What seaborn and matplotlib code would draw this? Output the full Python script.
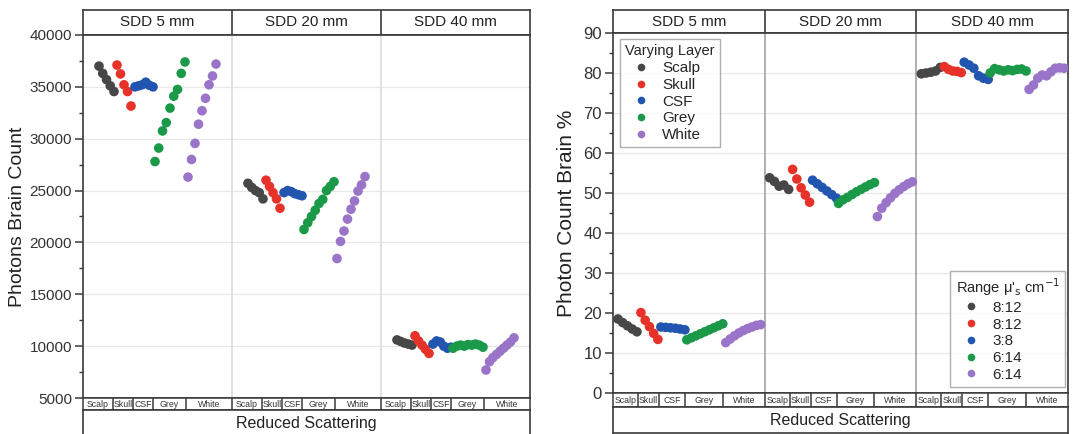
import numpy as np
import pandas as pd
import matplotlib
matplotlib.use("Agg")
import matplotlib.pyplot as plt
import seaborn as sns
from matplotlib.lines import Line2D
from matplotlib.ticker import MultipleLocator

sns.set_style("white")
plt.rcParams["font.family"] = ["Liberation Sans", "DejaVu Sans"]

# ---------------- data ----------------
layers = ["Scalp", "Skull", "CSF", "Grey", "White"]
sdd_labels = ["SDD 5 mm", "SDD 20 mm", "SDD 40 mm"]
range_labels = ["8:12", "8:12", "3:8", "6:14", "6:14"]
colors = ["#474747", "#e63228", "#2155b0", "#1a9a48", "#9a74c8"]

# Photons brain count (left panel)
count_sdd5 = {
    "Scalp": [37000, 36300, 35700, 35100, 34550],
    "Skull": [37100, 36250, 35200, 34550, 33150],
    "CSF":   [35000, 35100, 35200, 35450, 35150, 35000],
    "Grey":  [27800, 29100, 30750, 31550, 32950, 34100, 34750, 36300, 37400],
    "White": [26300, 28000, 29550, 31400, 32700, 33900, 35200, 36050, 37200],
}
count_sdd20 = {
    "Scalp": [25700, 25300, 25000, 24800, 24200],
    "Skull": [26000, 25400, 24800, 24200, 23300],
    "CSF":   [24800, 25000, 24900, 24700, 24600, 24500],
    "Grey":  [21250, 21900, 22500, 23100, 23750, 24150, 25000, 25400, 25850],
    "White": [18450, 20100, 21100, 22250, 23200, 24000, 24950, 25550, 26350],
}
count_sdd40 = {
    "Scalp": [10600, 10450, 10300, 10200, 10100],
    "Skull": [11000, 10500, 10100, 9700, 9300],
    "CSF":   [10200, 10500, 10400, 10000, 9800, 9900],
    "Grey":  [9800, 10000, 10100, 10000, 10150, 10100, 10200, 10100, 9900],
    "White": [7700, 8500, 8900, 9200, 9500, 9800, 10100, 10400, 10800],
}

# Photon count brain % (right panel)
pct_sdd5 = {
    "Scalp": [18.5, 17.6, 16.8, 16.0, 15.3],
    "Skull": [20.1, 18.2, 16.6, 14.9, 13.4],
    "CSF":   [16.5, 16.4, 16.3, 16.2, 16.0, 15.8],
    "Grey":  [13.3, 13.8, 14.3, 14.8, 15.3, 15.8, 16.3, 16.8, 17.3],
    "White": [12.6, 13.5, 14.3, 15.0, 15.6, 16.1, 16.5, 16.9, 17.1],
}
pct_sdd20 = {
    "Scalp": [53.8, 52.9, 51.7, 52.0, 50.9],
    "Skull": [55.9, 53.5, 51.3, 49.5, 47.7],
    "CSF":   [53.2, 52.3, 51.4, 50.5, 49.6, 48.7],
    "Grey":  [47.4, 48.3, 48.9, 49.6, 50.3, 50.9, 51.5, 52.1, 52.6],
    "White": [44.1, 46.2, 47.6, 48.8, 49.9, 50.8, 51.6, 52.3, 52.8],
}
pct_sdd40 = {
    "Scalp": [79.8, 80.0, 80.2, 80.5, 81.4],
    "Skull": [81.6, 80.9, 80.5, 80.4, 80.1],
    "CSF":   [82.7, 82.0, 81.2, 79.3, 78.7, 78.4],
    "Grey":  [80.0, 81.1, 80.8, 80.5, 80.8, 80.6, 80.9, 81.0, 80.5],
    "White": [75.9, 77.0, 78.7, 79.5, 79.3, 80.3, 81.2, 81.3, 81.2],
}

# ---------------- layout (pixel units) ----------------
W, H = 1073, 434
fig = plt.figure(figsize=(W / 100, H / 100), dpi=100)
fig.patch.set_facecolor("white")

DARK = "#3a3a3a"


def px_axes(x0, y0, x1, y1):
    return fig.add_axes([x0 / W, (H - y1) / H, (x1 - x0) / W, (y1 - y0) / H])


def build_df(groups, pos, gw):
    rows = []
    for g, grp in enumerate(groups):
        for lay in layers:
            vals = grp[lay]
            a, b = pos[lay]
            xs = g * gw + np.linspace(a, b, len(vals))
            for xv, yv in zip(xs, vals):
                rows.append({"x": xv, "y": yv, "layer": lay})
    return pd.DataFrame(rows)


def panel(x0, x1, ytop, head_bottom, yplot_bot, ystrip_bot, yband_bot, groups,
          pos, bounds, ylim, major, minor, ylabel, ylabel_x, ylabel_size,
          tick_size, sep_color):
    gw = (x1 - x0) / 3.0
    scale = gw / bounds[-1]
    # header
    hax = px_axes(x0, ytop, x1, head_bottom)
    hax.set_xlim(0, 3 * gw)
    hax.set_ylim(0, 1)
    hax.set_xticks([]); hax.set_yticks([])
    for s in hax.spines.values():
        s.set_color(DARK); s.set_linewidth(1.2)
    for g in range(3):
        if g > 0:
            hax.axvline(g * gw, color=DARK, lw=1.2)
        hax.text(g * gw + gw / 2, 0.5, sdd_labels[g], ha="center", va="center",
                 fontsize=11, color="#222222")

    # main plotting area
    ax = px_axes(x0, head_bottom, x1, yplot_bot)
    df = build_df(groups, {k: (v[0] * scale, v[1] * scale) for k, v in pos.items()}, gw)
    sns.scatterplot(data=df, x="x", y="y", hue="layer", hue_order=layers,
                    palette=colors, s=48, linewidth=0, legend=False, ax=ax,
                    zorder=3)
    ax.set_xlim(0, 3 * gw)
    ax.set_ylim(*ylim)
    ax.set_xticks([])
    ax.set_xlabel("")
    ax.yaxis.set_major_locator(MultipleLocator(major))
    ax.yaxis.set_minor_locator(MultipleLocator(minor))
    ax.tick_params(axis="y", which="major", direction="out", length=6, width=1.1,
                   color=DARK, labelsize=tick_size, labelcolor="#333333", pad=2,
                   left=True)
    ax.tick_params(axis="y", which="minor", direction="out", length=3, width=1.0,
                   color=DARK, left=True)
    ax.yaxis.grid(True, which="major", color="#e8e8e8", lw=0.9)
    ax.set_axisbelow(True)
    for g in (1, 2):
        ax.axvline(g * gw, color=sep_color, lw=1.1, zorder=1)
    for s in ax.spines.values():
        s.set_color(DARK); s.set_linewidth(1.2)
    ax.set_ylabel(ylabel, fontsize=ylabel_size, color="#222222")
    ax.yaxis.set_label_coords((ylabel_x - x0) / (x1 - x0), 0.5)
    ax.set_yticks(ax.get_yticks())
    ax.set_yticklabels([str(int(t)) for t in ax.get_yticks()])
    ax.set_ylim(*ylim)

    # category strip
    sax = px_axes(x0, yplot_bot, x1, ystrip_bot)
    sax.set_xlim(0, 3 * gw); sax.set_ylim(0, 1)
    sax.set_xticks([]); sax.set_yticks([])
    for s in sax.spines.values():
        s.set_color(DARK); s.set_linewidth(1.1)
    for g in range(3):
        for i, lay in enumerate(layers):
            lo = g * gw + bounds[i] * scale
            hi = g * gw + bounds[i + 1] * scale
            if lo > 0:
                sax.axvline(lo, color=DARK, lw=1.1)
            sax.text((lo + hi) / 2, 0.45, lay, ha="center", va="center",
                     fontsize=6.3, color="#333333")

    # x label band
    bax = px_axes(x0, ystrip_bot, x1, yband_bot)
    bax.set_xticks([]); bax.set_yticks([])
    bax.set_xlim(0, 1); bax.set_ylim(0, 1)
    for s in bax.spines.values():
        s.set_color(DARK); s.set_linewidth(1.2)
    bax.text(0.5, 0.5, "Reduced Scattering", ha="center", va="center",
             fontsize=11.5, color="#222222")
    return ax


left_pos = {"Scalp": (16, 31), "Skull": (34, 48), "CSF": (52, 70),
            "Grey": (72, 102), "White": (105, 133)}
left_bounds = [0, 30, 50, 70, 103, 149]
right_pos = {"Scalp": (5, 24), "Skull": (28, 45), "CSF": (48, 72),
             "Grey": (74, 110), "White": (113, 148)}
right_bounds = [0, 25, 46, 72, 110, 152]

axL = panel(83, 530, 10, 35, 398, 410, 437,
            [count_sdd5, count_sdd20, count_sdd40], left_pos, left_bounds,
            (5000, 40000), 5000, 2500, "Photons Brain Count", 26, 14, 11,
            "#d9d9d9")

axR = panel(613, 1068, 10, 33, 393, 407, 433,
            [pct_sdd5, pct_sdd20, pct_sdd40], right_pos, right_bounds,
            (0, 90), 10, 5, "Photon Count Brain %", 576, 15, 12, "#9a9a9a")

# legends on the right panel
handles = [Line2D([0], [0], marker="o", linestyle="none", markersize=5.5,
                  markerfacecolor=c, markeredgewidth=0) for c in colors]
leg_kw = dict(fontsize=11, title_fontsize=10.5, frameon=True, fancybox=False,
              borderpad=0.35, labelspacing=0.18, handlelength=2.0,
              handletextpad=0.4, borderaxespad=0.0, alignment="left")
leg1 = axR.legend(handles, layers, title="Varying Layer", loc="upper left",
                  bbox_to_anchor=((620 - 613) / 455, (393 - 39) / 360), **leg_kw)
leg1.get_frame().set_edgecolor("#9a9a9a"); leg1.get_frame().set_linewidth(1.0)
axR.add_artist(leg1)
leg2 = axR.legend(handles, range_labels, title="Range μ'$_\\mathrm{s}$ cm$^{-1}$",
                  loc="upper right",
                  bbox_to_anchor=((1065 - 613) / 455, (393 - 271) / 360), **leg_kw)
leg2.get_frame().set_edgecolor("#9a9a9a"); leg2.get_frame().set_linewidth(1.0)

fig.savefig("out.png", dpi=100, facecolor="white")
